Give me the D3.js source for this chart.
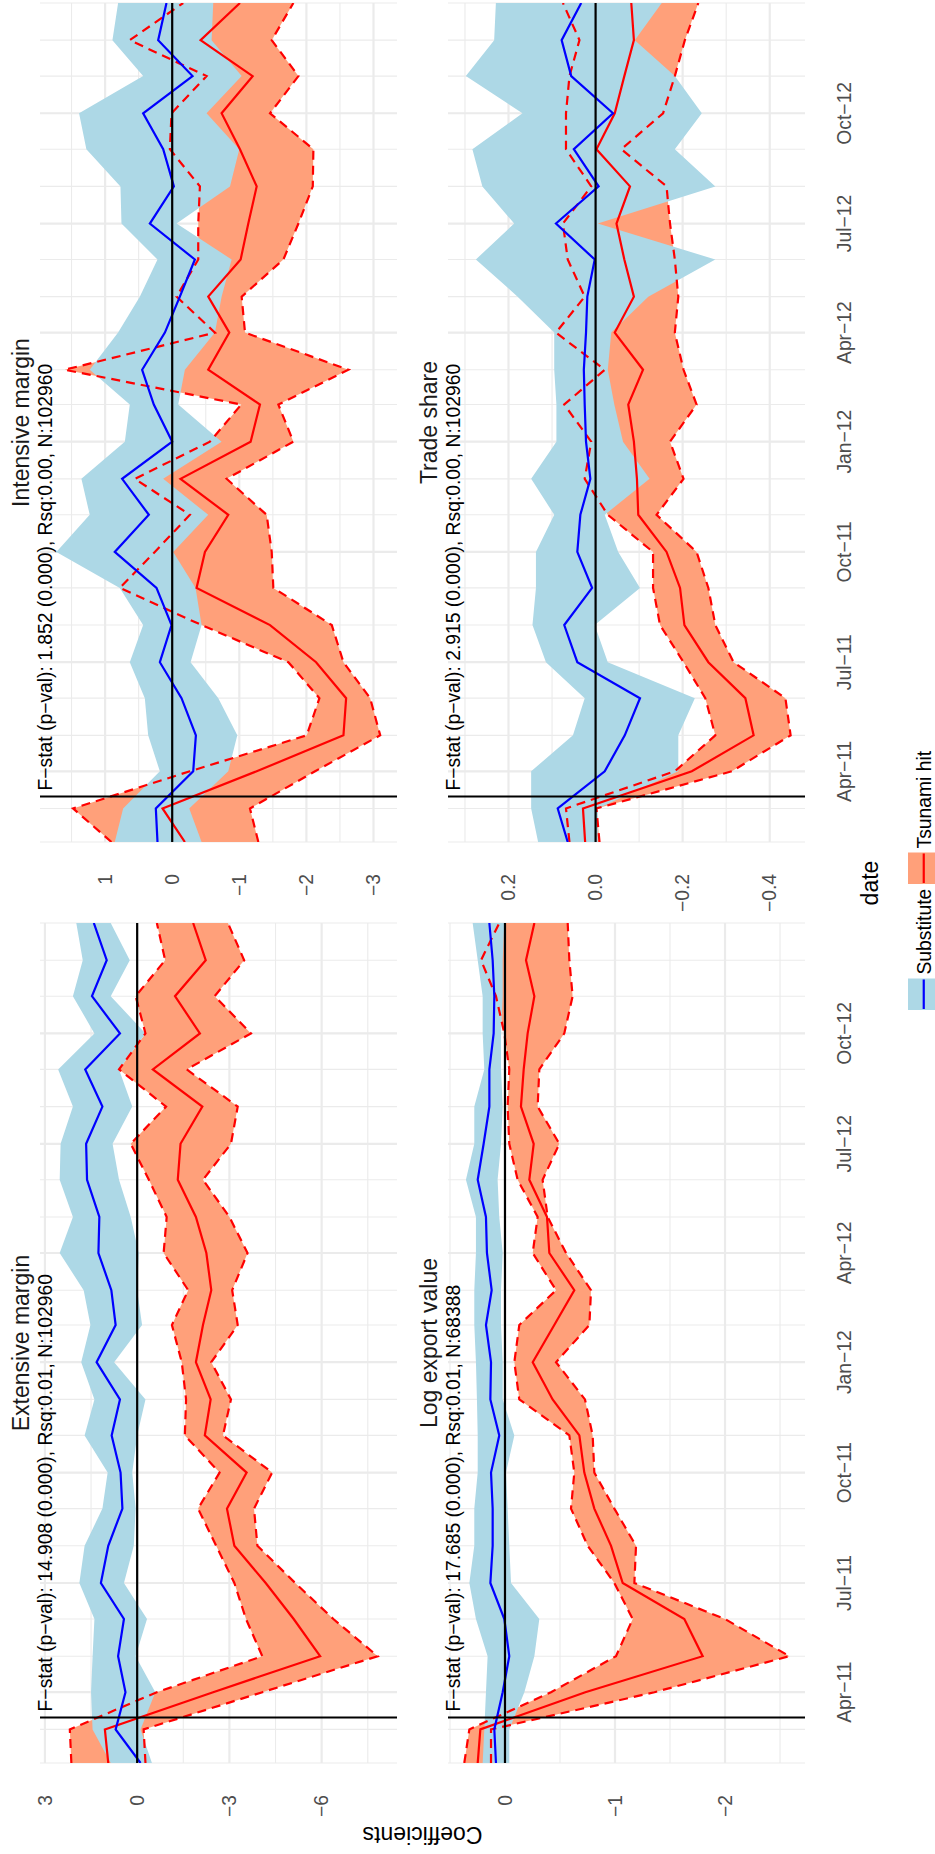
<!DOCTYPE html>
<html>
<head>
<meta charset="utf-8">
<script src="https://cdn.jsdelivr.net/npm/d3@7"></script>
<style>
  html, body { margin: 0; padding: 0; background: #fff; }
  svg { display: block; font-family: "Liberation Sans", Arial, Helvetica, sans-serif; }
</style>
</head>
<body>
<script>
// monthly observations, first of month
const months = ['2011-02-01', '2011-03-01', '2011-04-01', '2011-05-01', '2011-06-01', '2011-07-01',
  '2011-08-01', '2011-09-01', '2011-10-01', '2011-11-01', '2011-12-01', '2012-01-01',
  '2012-02-01', '2012-03-01', '2012-04-01', '2012-05-01', '2012-06-01', '2012-07-01',
  '2012-08-01', '2012-09-01', '2012-10-01', '2012-11-01', '2012-12-01', '2013-01-01'];
const quarterTicks = ['2011-04-01', '2011-07-01', '2011-10-01', '2012-01-01', '2012-04-01', '2012-07-01', '2012-10-01'];
const quarterLabels = ['Apr−11', 'Jul−11', 'Oct−11', 'Jan−12', 'Apr−12', 'Jul−12', 'Oct−12'];
const eventDate = '2011-03-11';
const seriesNames = ['Substitute', 'Tsunami hit'];

// Extensive margin
const extSubEst = [-0.11, 0.70, 0.38, 0.62, 0.43, 1.18, 0.94, 0.48, 0.54, 0.83, 0.56, 1.32, 0.70, 0.84, 1.26, 1.23, 1.63, 1.66, 1.13, 1.69, 0.56, 1.47, 0.99, 1.41];
const extSubHi = [0.86, 1.45, 1.50, 1.45, 1.39, 1.88, 1.71, 1.13, 0.96, 1.71, 1.39, 1.82, 1.52, 1.74, 2.52, 2.09, 2.52, 2.49, 2.09, 2.57, 1.39, 2.09, 1.77, 1.98];
const extSubLo = [-0.48, -0.11, -0.59, 0.05, -0.32, 0.43, 0.11, 0.05, 0.16, 0.00, -0.27, 0.75, -0.16, 0.00, -0.05, 0.21, 0.59, 0.80, 0.16, 0.59, -0.27, 0.86, 0.24, 0.86];
const extTsuEst = [0.94, 1.05, -2.47, -5.95, -5.09, -4.18, -3.16, -2.92, -3.56, -2.20, -2.39, -1.91, -2.14, -2.41, -2.25, -1.91, -1.32, -1.41, -2.12, -0.51, -2.04, -1.23, -2.23, -1.82];
const extTsuHi = [2.14, 2.19, -0.64, -4.07, -3.54, -3.16, -2.57, -1.98, -2.68, -1.55, -1.59, -1.45, -1.13, -1.66, -0.86, -0.96, -0.38, 0.21, -0.94, 0.59, -0.27, 0.05, -0.91, -0.64];
const extTsuLo = [-0.27, -0.21, -4.07, -7.82, -6.38, -5.14, -3.91, -3.80, -4.39, -2.79, -3.05, -2.41, -3.27, -3.09, -3.59, -3.00, -2.14, -3.05, -3.27, -1.61, -3.70, -2.52, -3.48, -2.95];

// Intensive margin
const intSubEst = [0.219, 0.244, -0.313, -0.353, -0.139, 0.184, 0.010, 0.234, 0.856, 0.348, 0.746, 0.000, 0.274, 0.448, 0.109, -0.114, -0.338, 0.333, -0.025, 0.134, 0.433, -0.303, 0.209, 0.085];
const intSubHi = [0.856, 0.731, 0.184, 0.358, 0.408, 0.632, 0.433, 0.781, 1.726, 1.229, 1.353, 0.706, 0.632, 1.229, 0.806, 0.483, 0.219, 0.756, 0.771, 1.279, 1.388, 0.433, 0.891, 0.806];
const intSubLo = [-0.438, -0.254, -0.836, -0.970, -0.687, -0.274, -0.438, -0.348, -0.015, -0.537, 0.134, -0.736, -0.090, -0.189, -0.637, -0.736, -0.886, -0.065, -0.861, -1.000, -0.512, -1.035, -0.587, -0.612];
const intTsuEst = [-0.189, 0.144, -1.259, -2.552, -2.592, -2.144, -1.458, -0.363, -0.488, -0.836, -0.124, -1.169, -1.308, -0.537, -0.851, -0.537, -1.020, -1.134, -1.259, -1.010, -0.736, -1.199, -0.423, -1.010];
const intTsuHi = [0.905, 1.478, -0.264, -2.005, -2.194, -1.731, -0.438, 0.781, 0.259, -0.264, 0.557, -0.562, -1.030, 1.602, -0.637, -0.065, -0.388, -0.388, -0.413, 0.035, 0.010, -0.512, 0.632, -0.164];
const intTsuLo = [-1.284, -1.159, -2.129, -3.100, -2.950, -2.552, -2.378, -1.507, -1.483, -1.408, -0.811, -1.806, -1.582, -2.627, -1.085, -1.035, -1.657, -1.881, -2.095, -2.104, -1.458, -1.881, -1.483, -1.806];

// Log export value
const logSubEst = [0.082, 0.097, 0.021, -0.039, 0.006, 0.133, 0.112, 0.112, 0.127, 0.052, 0.133, 0.127, 0.173, 0.121, 0.164, 0.173, 0.248, 0.194, 0.142, 0.142, 0.103, 0.097, 0.112, 0.142];
const logSubHi = [0.203, 0.188, 0.173, 0.158, 0.264, 0.324, 0.279, 0.279, 0.248, 0.248, 0.255, 0.264, 0.279, 0.279, 0.264, 0.264, 0.355, 0.279, 0.279, 0.188, 0.203, 0.203, 0.248, 0.294];
const logSubLo = [-0.039, -0.039, -0.176, -0.267, -0.312, -0.055, -0.039, -0.024, -0.009, -0.085, 0.021, 0.021, 0.036, 0.036, 0.021, 0.052, 0.067, 0.036, 0.021, 0.036, 0.036, 0.021, 0.021, 0.006];
const logTsuEst = [0.248, 0.224, -0.730, -1.797, -1.630, -1.070, -0.964, -0.812, -0.721, -0.676, -0.433, -0.252, -0.448, -0.630, -0.403, -0.382, -0.221, -0.261, -0.145, -0.170, -0.206, -0.267, -0.191, -0.267];
const logTsuHi = [0.370, 0.324, -0.418, -1.009, -1.161, -0.994, -0.752, -0.600, -0.630, -0.585, -0.130, -0.085, -0.130, -0.464, -0.252, -0.297, -0.115, -0.039, -0.024, -0.039, 0.006, 0.082, 0.218, 0.052];
const logTsuLo = [0.127, 0.127, -1.358, -2.585, -2.000, -1.176, -1.191, -0.994, -0.812, -0.797, -0.727, -0.464, -0.767, -0.782, -0.555, -0.388, -0.342, -0.494, -0.297, -0.312, -0.539, -0.615, -0.585, -0.570];

// Trade share
const trdSubEst = [0.064, 0.087, -0.021, -0.067, -0.102, 0.042, 0.072, 0.008, 0.042, 0.035, 0.012, 0.022, 0.025, 0.027, 0.022, 0.019, 0.002, 0.091, -0.007, 0.050, -0.040, 0.056, 0.078, 0.033];
const trdSubHi = [0.132, 0.148, 0.148, 0.052, 0.025, 0.114, 0.145, 0.137, 0.137, 0.095, 0.148, 0.090, 0.090, 0.095, 0.095, 0.179, 0.275, 0.187, 0.260, 0.283, 0.168, 0.298, 0.233, 0.229];
const trdSubLo = [-0.005, -0.005, -0.190, -0.190, -0.228, -0.028, 0.002, -0.102, -0.052, -0.021, -0.124, -0.063, -0.043, -0.028, -0.036, -0.121, -0.275, -0.005, -0.275, -0.182, -0.244, -0.182, -0.090, -0.152];
const trdTsuEst = [0.024, 0.029, -0.221, -0.363, -0.344, -0.259, -0.204, -0.194, -0.163, -0.098, -0.095, -0.088, -0.075, -0.109, -0.044, -0.088, -0.066, -0.048, -0.079, -0.002, -0.044, -0.066, -0.088, -0.082];
const trdTsuHi = [0.060, 0.068, -0.182, -0.275, -0.252, -0.202, -0.148, -0.132, -0.132, -0.028, 0.025, 0.010, 0.072, -0.021, 0.091, 0.025, 0.064, 0.075, 0.010, 0.068, 0.068, 0.060, 0.037, 0.075];
const trdTsuLo = [-0.009, -0.002, -0.313, -0.448, -0.436, -0.317, -0.275, -0.259, -0.232, -0.140, -0.202, -0.171, -0.232, -0.202, -0.182, -0.190, -0.182, -0.171, -0.163, -0.059, -0.155, -0.182, -0.205, -0.236];

// y axis breaks per panel
const extTicks = [3, 0, -3, -6];
const extMinor = [1.5, -1.5, -4.5, -7.5];
const intTicks = [1, 0, -1, -2, -3];
const intMinor = [1.5, 0.5, -0.5, -1.5, -2.5];
const logTicks = [0, -1, -2];
const logMinor = [0.5, -0.5, -1.5, -2.5];
const trdTicks = [0.2, 0.0, -0.2, -0.4];
const trdMinor = [0.3, 0.1, -0.1, -0.3];

const parse = d3.timeParse('%Y-%m-%d');
const dates = months.map(parse);

// the figure is laid out landscape, then turned a quarter turn onto the page
const W = 1854, H = 935;
const colors = {
  subFill: '#add8e6', subLine: '#0000ff',
  tsuFill: '#ffa07a', tsuLine: '#ff0000',
  grid: '#ebebeb', axisText: '#4d4d4d', strip: '#1a1a1a',
};
const small = 19.3;
const big = 23;

const svg = d3.select('body').append('svg').attr('width', H).attr('height', W);
const root = svg.append('g').attr('transform', `translate(0,${W}) rotate(-90)`);
root.append('rect').attr('width', W).attr('height', H).attr('fill', '#fff');

const cols = [[91, 931], [1012, 1851]];
const rows = [[40, 397], [448, 805]];

const rowsOf = (est, lo, hi) => dates.map((d, j) => ({ date: d, est: est[j], lo: lo[j], hi: hi[j] }));

const panels = [
  { title: 'Extensive margin', stat: 'F−stat (p−val): 14.908 (0.000), Rsq:0.01, N:102960',
    col: 0, row: 0, domain: [-8.45, 3.16], ticks: extTicks, minor: extMinor, fmt: d3.format('d'),
    sub: rowsOf(extSubEst, extSubLo, extSubHi), tsu: rowsOf(extTsuEst, extTsuLo, extTsuHi) },
  { title: 'Intensive margin', stat: 'F−stat (p−val): 1.852 (0.000), Rsq:0.00, N:102960',
    col: 1, row: 0, domain: [-3.35, 1.97], ticks: intTicks, minor: intMinor, fmt: d3.format('d'),
    sub: rowsOf(intSubEst, intSubLo, intSubHi), tsu: rowsOf(intTsuEst, intTsuLo, intTsuHi) },
  { title: 'Log export value', stat: 'F−stat (p−val): 17.685 (0.000), Rsq:0.01, N:68388',
    col: 0, row: 1, domain: [-2.727, 0.518], ticks: logTicks, minor: logMinor, fmt: d3.format('d'),
    sub: rowsOf(logSubEst, logSubLo, logSubHi), tsu: rowsOf(logTsuEst, logTsuLo, logTsuHi) },
  { title: 'Trade share', stat: 'F−stat (p−val): 2.915 (0.000), Rsq:0.00, N:102960',
    col: 1, row: 1, domain: [-0.481, 0.339], ticks: trdTicks, minor: trdMinor, fmt: d3.format('.1f'),
    sub: rowsOf(trdSubEst, trdSubLo, trdSubHi), tsu: rowsOf(trdTsuEst, trdTsuLo, trdTsuHi) },
];

const quarterDates = quarterTicks.map(parse);
const event = parse(eventDate);

panels.forEach((p, i) => {
  const [x0, x1] = cols[p.col];
  const [y0, y1] = rows[p.row];
  const x = d3.scaleTime().domain(d3.extent(dates)).range([x0, x1]);
  const y = d3.scaleLinear().domain(p.domain).range([y1, y0]);
  const g = root.append('g').attr('class', 'panel');

  const clipId = `panel-clip-${i}`;
  g.append('clipPath').attr('id', clipId)
    .append('rect').attr('x', x0).attr('y', y0).attr('width', x1 - x0).attr('height', y1 - y0);

  // grid: monthly minor, quarterly major
  const grid = g.append('g').attr('stroke', colors.grid);
  grid.selectAll('.minor-x').data(dates).join('line')
    .attr('x1', d => x(d)).attr('x2', d => x(d)).attr('y1', y0).attr('y2', y1)
    .attr('stroke-width', 1.1);
  grid.selectAll('.minor-y').data(p.minor).join('line')
    .attr('x1', x0).attr('x2', x1).attr('y1', d => y(d)).attr('y2', d => y(d))
    .attr('stroke-width', 1.1);
  grid.selectAll('.major-x').data(quarterDates).join('line')
    .attr('x1', d => x(d)).attr('x2', d => x(d)).attr('y1', y0).attr('y2', y1)
    .attr('stroke-width', 2.2);
  grid.selectAll('.major-y').data(p.ticks).join('line')
    .attr('x1', x0).attr('x2', x1).attr('y1', d => y(d)).attr('y2', d => y(d))
    .attr('stroke-width', 2.2);

  const plot = g.append('g').attr('clip-path', `url(#${clipId})`);
  const band = d3.area().x(d => x(d.date)).y0(d => y(d.lo)).y1(d => y(d.hi));
  const line = key => d3.line().x(d => x(d.date)).y(d => y(d[key]));

  plot.append('path').datum(p.tsu).attr('d', band).attr('fill', colors.tsuFill);
  plot.append('path').datum(p.sub).attr('d', band).attr('fill', colors.subFill);

  ['hi', 'lo'].forEach(k => {
    plot.append('path').datum(p.tsu).attr('d', line(k))
      .attr('fill', 'none').attr('stroke', colors.tsuLine)
      .attr('stroke-width', 2.2).attr('stroke-dasharray', '9,6');
  });
  plot.append('path').datum(p.tsu).attr('d', line('est'))
    .attr('fill', 'none').attr('stroke', colors.tsuLine).attr('stroke-width', 2.2);
  plot.append('path').datum(p.sub).attr('d', line('est'))
    .attr('fill', 'none').attr('stroke', colors.subLine).attr('stroke-width', 2.2);

  // reference lines
  g.append('line').attr('x1', x0).attr('x2', x1).attr('y1', y(0)).attr('y2', y(0))
    .attr('stroke', '#000').attr('stroke-width', 2.2);
  g.append('line').attr('x1', x(event)).attr('x2', x(event)).attr('y1', y0).attr('y2', y1)
    .attr('stroke', '#000').attr('stroke-width', 2);

  g.append('text')
    .attr('x', x(event) + 6).attr('y', y0 + 11.5)
    .attr('font-size', small).attr('fill', '#000')
    .text(p.stat);

  // facet title
  g.append('text')
    .attr('x', (x0 + x1) / 2).attr('y', y0 - 11.5)
    .attr('text-anchor', 'middle').attr('font-size', big).attr('fill', colors.strip)
    .text(p.title);

  // y tick labels
  g.selectAll('.ytick').data(p.ticks).join('text')
    .attr('x', x0 - 32).attr('y', d => y(d)).attr('dy', '0.35em')
    .attr('text-anchor', 'end').attr('font-size', small).attr('fill', colors.axisText)
    .text(d => p.fmt(d));

  // x tick labels only under the bottom row
  if (p.row === 1) {
    g.selectAll('.xtick').data(quarterDates).join('text')
      .attr('x', d => x(d)).attr('y', y1 + 46)
      .attr('text-anchor', 'middle').attr('font-size', small).attr('fill', colors.axisText)
      .text((d, j) => quarterLabels[j]);
  }
});

// axis titles
root.append('text')
  .attr('x', (cols[0][0] + cols[1][1]) / 2).attr('y', 878)
  .attr('text-anchor', 'middle').attr('font-size', big).attr('fill', '#000')
  .text('date');
root.append('text')
  .attr('transform', `translate(27,${(rows[0][0] + rows[1][1]) / 2}) rotate(-90)`)
  .attr('text-anchor', 'middle').attr('font-size', big).attr('fill', '#000')
  .text('Coefficients');

// legend (runs off the bottom edge, as in the source figure)
const legend = root.append('g').attr('class', 'legend');
const keySize = 31.5;
const legendItems = [
  { name: seriesNames[0], fill: colors.subFill, stroke: colors.subLine, x: 844 },
  { name: seriesNames[1], fill: colors.tsuFill, stroke: colors.tsuLine, x: 970 },
];
const entry = legend.selectAll('.legend-entry').data(legendItems).join('g')
  .attr('class', 'legend-entry')
  .attr('transform', d => `translate(${d.x},908)`);
entry.append('rect').attr('width', keySize).attr('height', keySize).attr('fill', d => d.fill);
entry.append('line').attr('x1', 1).attr('x2', keySize - 1)
  .attr('y1', keySize / 2).attr('y2', keySize / 2)
  .attr('stroke', d => d.stroke).attr('stroke-width', 2.2);
entry.append('text').attr('x', keySize + 4).attr('y', keySize / 2).attr('dy', '0.35em')
  .attr('font-size', small).attr('fill', '#000')
  .text(d => d.name);
</script>
</body>
</html>
